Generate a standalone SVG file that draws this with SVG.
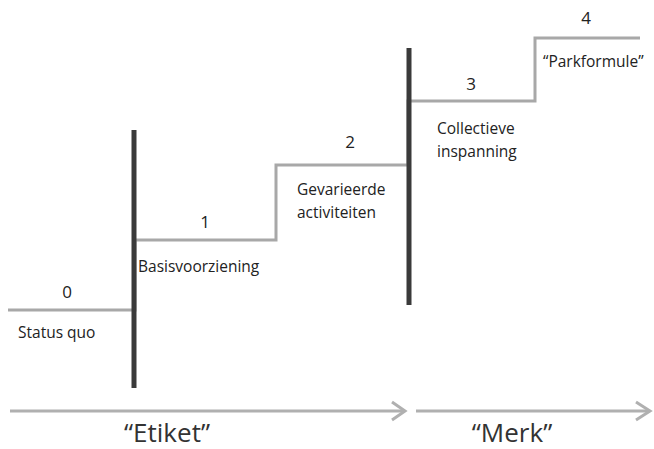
<svg xmlns="http://www.w3.org/2000/svg" width="654" height="449" viewBox="0 0 654 449">
<style>
.step{fill:none;stroke:#a8a8a8;stroke-width:3;stroke-linejoin:miter}
.bar{stroke:#3a3a3a;stroke-width:5}
.arr{fill:none;stroke:#b0b0b0;stroke-width:3}
.t{font-family:"Open Sans","Liberation Sans",sans-serif;font-size:15.5px;fill:#222}
.n{font-family:"Open Sans","Liberation Sans",sans-serif;font-size:17px;fill:#222;text-anchor:middle}
.big{font-family:"Open Sans","Liberation Sans",sans-serif;font-size:26px;fill:#333;text-anchor:middle}
</style>
<rect width="654" height="449" fill="#fff"/>
<g id="connectors">
<polyline class="step" points="8,310 135,310 135,240 276,240 276,165 408,165 408,101 535,101 535,38 640,38"/>
<line class="bar" x1="134" y1="130" x2="134" y2="388"/>
<line class="bar" x1="409" y1="48" x2="409" y2="305"/>
<g id="arrow-etiket">
<line class="arr" x1="10" y1="411" x2="404" y2="411"/>
<polyline class="arr" points="392,402 405,411 392,420"/>
</g>
<g id="arrow-merk">
<line class="arr" x1="416" y1="411" x2="649" y2="411"/>
<polyline class="arr" points="636,402 650,411 636,420"/>
</g>
</g>
<g id="step0"><text class="n" x="67" y="298">0</text><text class="t" x="18" y="338">Status quo</text></g>
<g id="step1"><text class="n" x="205" y="228">1</text><text class="t" x="138" y="272">Basisvoorziening</text></g>
<g id="step2"><text class="n" x="350" y="148">2</text><text class="t" x="297" y="195">Gevarieerde</text><text class="t" x="297" y="218">activiteiten</text></g>
<g id="step3"><text class="n" x="471" y="90">3</text><text class="t" x="437" y="134">Collectieve</text><text class="t" x="437" y="157">inspanning</text></g>
<g id="step4"><text class="n" x="586" y="24">4</text><text class="t" x="543" y="67">“Parkformule”</text></g>
<g id="label-etiket"><text class="big" x="167" y="442">“Etiket”</text></g>
<g id="label-merk"><text class="big" x="512" y="442">“Merk”</text></g>
</svg>
